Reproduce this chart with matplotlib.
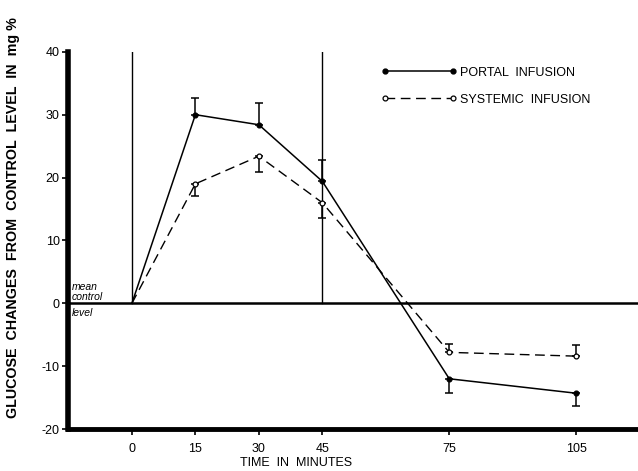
import matplotlib.pyplot as plt
from matplotlib.lines import Line2D
import numpy as np

# time points (minutes)
minutes = [0, 15, 30, 45, 75, 105]

# glucose change from control level (mg %)
portal = [0, 30.0, 28.4, 19.4, -12.0, -14.3]
portal_err_lo = [0, 0, 0, 0, 2.2, 2.0]
portal_err_hi = [0, 2.6, 3.5, 3.4, 0, 0]

systemic = [0, 19.0, 23.4, 16.0, -7.8, -8.4]
systemic_err_lo = [0, 2.0, 2.5, 2.5, 0, 0]
systemic_err_hi = [0, 0, 0, 0, 1.3, 1.8]

xticks = [0, 15, 30, 45, 75, 105]
yticks = [-20, -10, 0, 10, 20, 30, 40]
infusion_marks = [0, 45]

plt.rcParams['font.family'] = ['Liberation Sans', 'DejaVu Sans']

fig = plt.figure(figsize=(6.38, 4.71), dpi=100)
ax = fig.add_axes([0.1066, 0.089, 0.8934, 0.801])

# vertical markers for infusion start / end
for m in infusion_marks:
    ax.plot([m, m], [0, 40], color='black', lw=1.0, zorder=1)

# mean control level
ax.axhline(0, color='black', lw=1.8, zorder=1)

x = np.array(minutes)
series = [
    (portal, portal_err_lo, portal_err_hi, '-', 'black', 1.1),
    (systemic, systemic_err_lo, systemic_err_hi, (0, (7, 4)), 'white', 1.0),
]
for y, lo, hi, ls, face, lw in series:
    y, lo, hi = np.array(y), np.array(lo), np.array(hi)
    ax.plot(x, y, color='black', lw=lw, ls=ls, marker='o', ms=3.5, mfc=face,
            mew=0.9, markevery=list(range(1, len(x))), zorder=3)
    has = (lo + hi) > 0
    ax.errorbar(x[has], y[has], yerr=[lo[has], hi[has]], fmt='none', ecolor='black',
                elinewidth=1.1, capsize=3, capthick=1.1, zorder=2)

ax.set_xlim(-15.1, 119.6)
ax.set_ylim(-20, 40)
ax.set_xticks(xticks)
ax.set_yticks(yticks)
ax.set_yticklabels(['-20', '-10', '0', '10', '20', '30', '40'])
ax.tick_params(axis='both', labelsize=9, length=4, width=1.2, direction='out', pad=2)
ax.tick_params(axis='x', pad=6)

for s in ['top', 'right']:
    ax.spines[s].set_visible(False)
ax.spines['left'].set_linewidth(4)
ax.spines['bottom'].set_linewidth(3.5)

ax.set_xlabel('TIME  IN  MINUTES', fontsize=9)
ax.xaxis.set_label_coords(0.4, -0.075)
ax.set_ylabel('GLUCOSE  CHANGES  FROM  CONTROL  LEVEL  IN  mg %', fontsize=10.3,
              fontweight='bold')
ax.yaxis.set_label_coords(-0.085, 0.56)

ax.text(-14.3, 1.75, 'mean', fontsize=7.5, style='italic', va='bottom')
ax.text(-14.3, 0.25, 'control', fontsize=7.5, style='italic', va='bottom')
ax.text(-14.3, -0.7, 'level', fontsize=7.5, style='italic', va='top')

handles = [
    Line2D([], [], color='black', lw=1.1, marker='o', ms=3.5, mfc='black'),
    Line2D([], [], color='black', lw=1.0, ls=(0, (7, 4)), marker='o', ms=3.5,
           mfc='white', mew=0.9),
]
ax.legend(handles, ['PORTAL  INFUSION', 'SYSTEMIC  INFUSION'], loc='upper left',
          bbox_to_anchor=(0.53, 0.99), numpoints=2, handlelength=6,
          handletextpad=0.3, frameon=False, fontsize=9, labelspacing=1.2)

fig.savefig('out.png', dpi=100)
